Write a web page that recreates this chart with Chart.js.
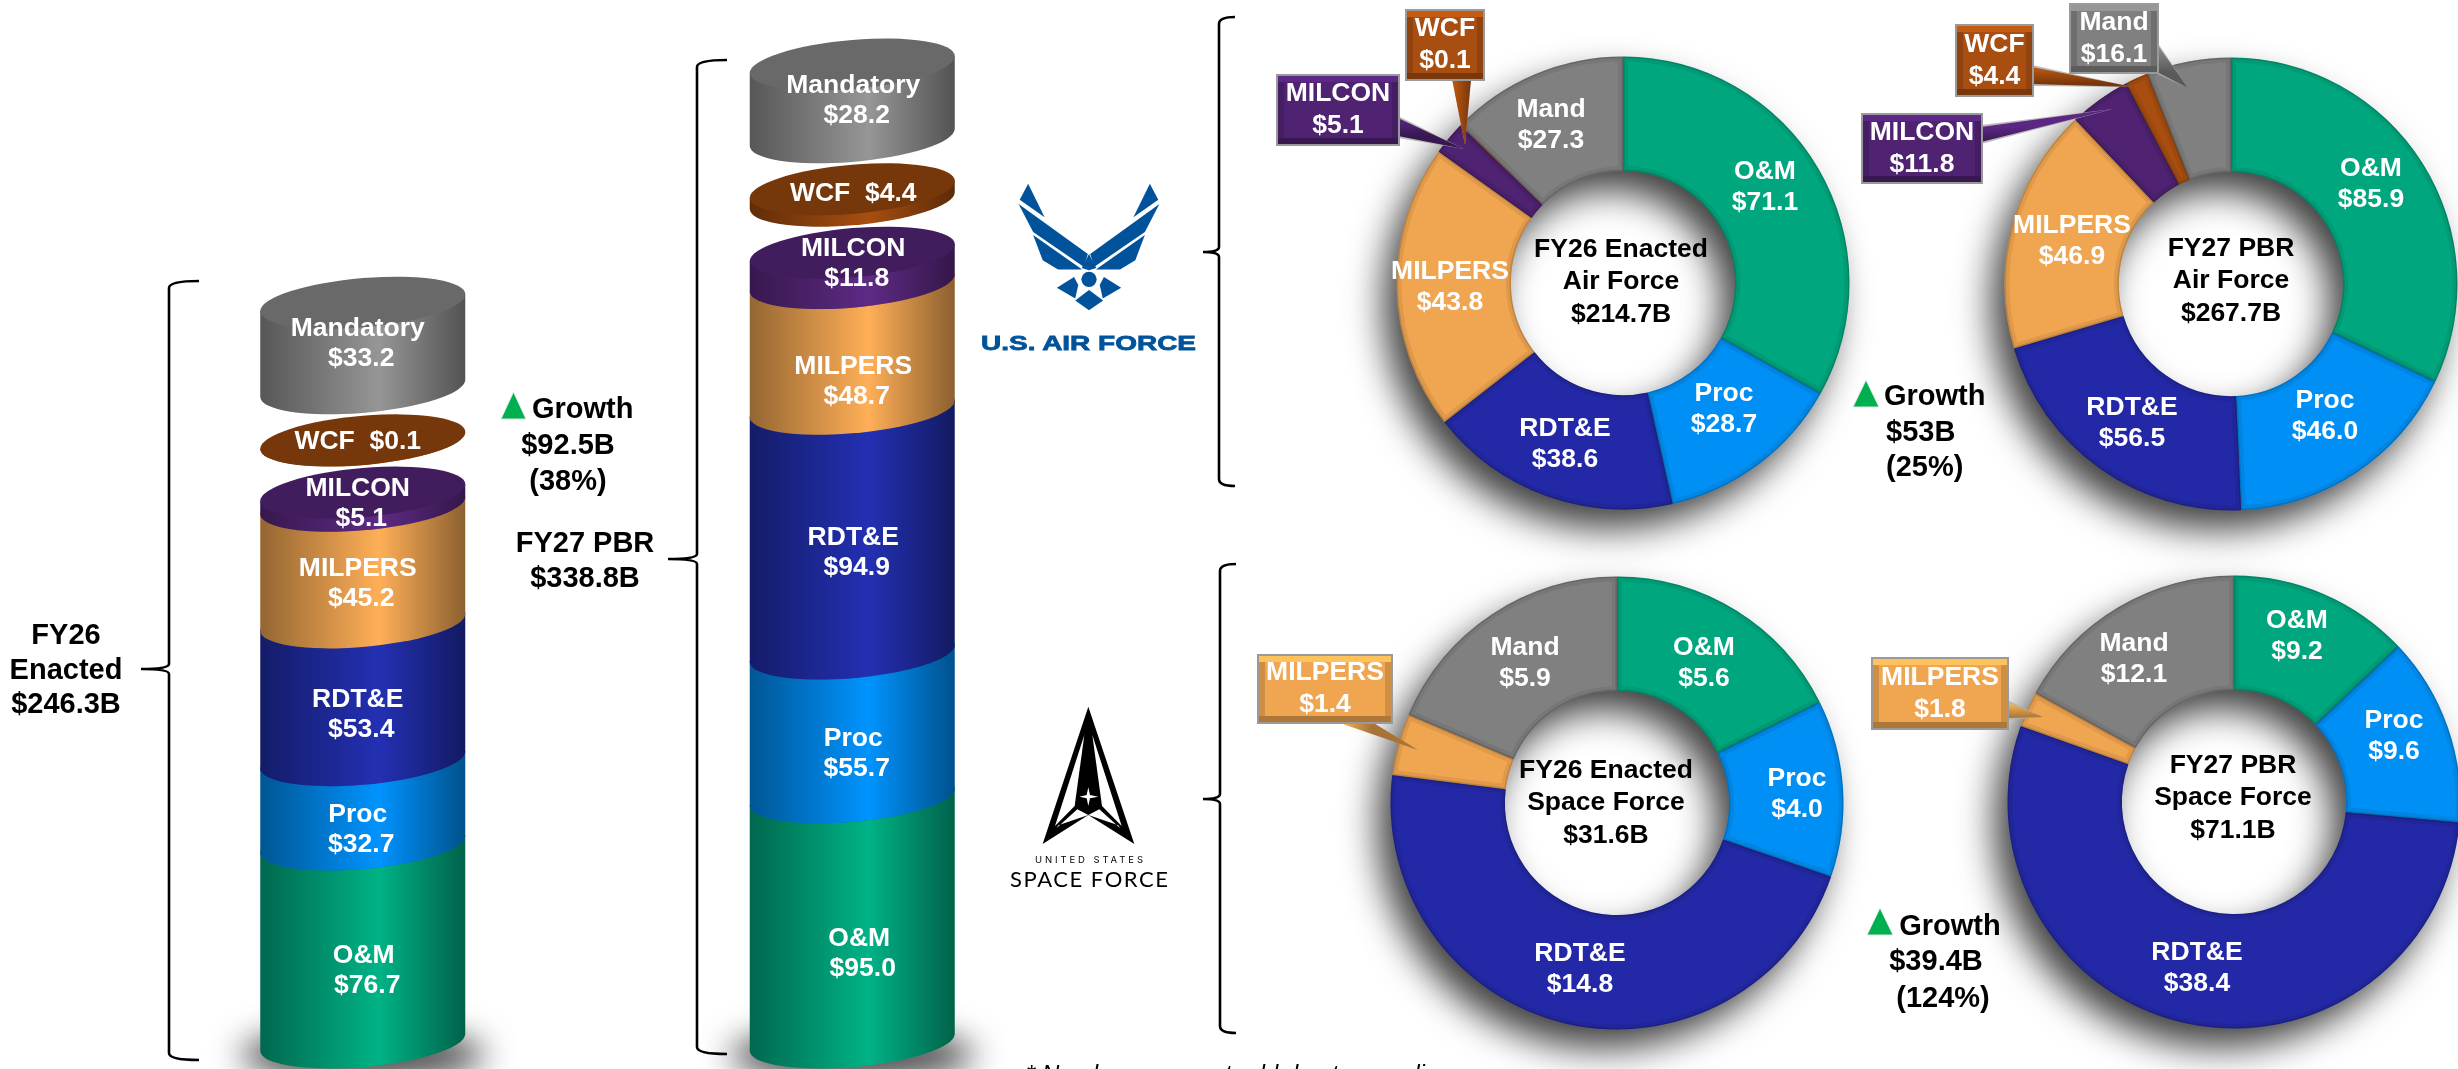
<!DOCTYPE html>
<html>
<head>
<meta charset="utf-8">
<title>FY27 Department of the Air Force budget</title>
<script src="https://cdn.jsdelivr.net/npm/chart.js@4/dist/chart.umd.min.js"></script>
<style>
  html, body { margin: 0; padding: 0; background: #fff; }
  #page { position: relative; width: 2458px; height: 1069px; overflow: hidden; background: #fff; font-family: "Liberation Sans", Arial, sans-serif; }
  canvas { position: absolute; }
  svg { position: absolute; left: 0; top: 0; }
  .note { position: absolute; transform: translate(-50%, -50%); font-weight: bold; font-size: 29px; color: #000; white-space: nowrap; line-height: 1; }
  .left { transform: translate(0, -50%); }
  #foot { position: absolute; left: 1026px; top: 1060px; font-style: italic; font-size: 24px; color: #000; white-space: nowrap; }
</style>
</head>
<body>
<div id="page">
  <canvas id="stacks" width="979" height="1069" style="left:118px;top:0"></canvas>
  <canvas id="af26" width="800" height="800"></canvas>
  <canvas id="af27" width="800" height="800"></canvas>
  <canvas id="sf26" width="800" height="800"></canvas>
  <canvas id="sf27" width="800" height="800"></canvas>
  <svg id="marks" width="2458" height="1069"></svg>

  <div class="note" style="left:66px;top:634px">FY26</div>
  <div class="note" style="left:66px;top:669px">Enacted</div>
  <div class="note" style="left:66px;top:703px">$246.3B</div>

  <div class="note left" style="left:532px;top:408px">Growth</div>
  <div class="note" style="left:568px;top:444px">$92.5B</div>
  <div class="note" style="left:568px;top:480px">(38%)</div>
  <div class="note" style="left:585px;top:542px">FY27 PBR</div>
  <div class="note" style="left:585px;top:577px">$338.8B</div>

  <div class="note left" style="left:1884px;top:395px">Growth</div>
  <div class="note left" style="left:1886px;top:431px">$53B</div>
  <div class="note left" style="left:1886px;top:466px">(25%)</div>

  <div class="note" style="left:1950px;top:925px">Growth</div>
  <div class="note" style="left:1936px;top:960px">$39.4B</div>
  <div class="note" style="left:1943px;top:997px">(124%)</div>

  <div id="foot">* Numbers may not add due to rounding</div>
</div>

<script>
// stacked columns, bottom to top, $B
var stackLabels = ['O&M', 'Proc', 'RDT&E', 'MILPERS', 'MILCON', 'WCF', 'Mandatory'];
var columns = ['FY26 Enacted', 'FY27 PBR'];
var fy26Stack = [76.7, 32.7, 53.4, 45.2, 5.1, 0.1, 33.2];
var fy27Stack = [95.0, 55.7, 94.9, 48.7, 11.8, 4.4, 28.2];

// doughnuts, clockwise from the top, $B
var airLabels = ['O&M', 'Proc', 'RDT&E', 'MILPERS', 'MILCON', 'WCF', 'Mand'];
var af26Values = [71.1, 28.7, 38.6, 43.8, 5.1, 0.1, 27.3];
var af27Values = [85.9, 46.0, 56.5, 46.9, 11.8, 4.4, 16.1];
var spaceLabels = ['O&M', 'Proc', 'RDT&E', 'MILPERS', 'Mand'];
var sf26Values = [5.6, 4.0, 14.8, 1.4, 5.9];
var sf27Values = [9.2, 9.6, 38.4, 1.8, 12.1];

var stackColors = { 'O&M': '#00b386', 'Proc': '#0094ff', 'RDT&E': '#2330b3', 'MILPERS': '#ffaf57', 'MILCON': '#5e2a85', 'WCF': '#a84e10', 'Mandatory': '#969696' };
var ringColors = { 'O&M': '#00a67e', 'Proc': '#0090f5', 'RDT&E': '#2329a6', 'MILPERS': '#f0a550', 'MILCON': '#4f2272', 'WCF': '#a84e10', 'Mand': '#808080' };

var FONT = 'bold 26.5px "Liberation Sans", Arial, sans-serif';
var PX_PER_B = 2.58;   // column height per $B, same for both columns
var CAP_B = 24.6;      // cylinder end ellipse
var CAP_TILT = -0.0825;
var CAP_LIFT = 52;     // gap left between the floating pieces
// hand placed label offsets, px, one row per column
var labelDrop = [[3, 3, -1, -5, 6, 3, 0], [9, 4, -3, 11, -3, 0, 1]];

function shade(hex, f) {
  var n = parseInt(hex.slice(1), 16);
  var r = Math.round((n >> 16 & 255) * f), g = Math.round((n >> 8 & 255) * f), b = Math.round((n & 255) * f);
  return 'rgb(' + r + ',' + g + ',' + b + ')';
}

function liftOf(i) { return CAP_LIFT * Math.max(0, i - 4); } // WCF and Mandatory float

function drawCylinder(ctx, x, top, base, a, color) {
  ctx.save();
  ctx.transform(1, CAP_TILT, 0, 1, x, 0);
  var g = ctx.createLinearGradient(-a, 0, a, 0);
  g.addColorStop(0, shade(color, 0.58));
  g.addColorStop(0.58, color);
  g.addColorStop(1, shade(color, 0.55));
  ctx.fillStyle = g;
  ctx.beginPath();
  ctx.moveTo(-a, top);
  ctx.lineTo(-a, base);
  ctx.ellipse(0, base, a, CAP_B, 0, Math.PI, 0, true);
  ctx.lineTo(a, top);
  ctx.closePath();
  ctx.fill();
  ctx.fillStyle = shade(color, 0.7);
  ctx.beginPath();
  ctx.ellipse(0, top, a, CAP_B, 0, 0, Math.PI * 2);
  ctx.fill();
  ctx.restore();
}

var cylinderPlugin = {
  id: 'cylinder',
  // chart.js paints the last dataset first, the pieces need bottom to top
  beforeDatasetsDraw: function (chart) {
    var ctx = chart.ctx;
    chart.getDatasetMeta(0).data.forEach(function (el) {
      // shape sits off canvas so only its blurred shadow lands on the page
      ctx.save();
      ctx.shadowColor = 'rgba(70,70,70,0.95)';
      ctx.shadowBlur = 32;
      ctx.shadowOffsetX = 3000;
      ctx.beginPath();
      ctx.ellipse(el.x - 3000, el.base - 12, 122, 26, 0, 0, Math.PI * 2);
      ctx.fill();
      ctx.restore();
    });
    chart.data.datasets.forEach(function (ds, i) {
      var lift = liftOf(i);
      chart.getDatasetMeta(i).data.forEach(function (el) {
        drawCylinder(ctx, el.x, el.y - lift - CAP_B, el.base - lift - CAP_B, el.width / 2, ds.backgroundColor);
      });
    });
  },
  beforeDatasetDraw: function () { return false; },
  afterDatasetsDraw: function (chart) {
    var ctx = chart.ctx;
    ctx.save();
    ctx.font = FONT;
    ctx.fillStyle = '#fff';
    ctx.textAlign = 'center';
    ctx.textBaseline = 'middle';
    chart.data.datasets.forEach(function (ds, i) {
      var lift = liftOf(i);
      chart.getDatasetMeta(i).data.forEach(function (el, c) {
        var hasCap = i >= 4;
        var mid = (el.base + el.y - (hasCap ? CAP_LIFT : 0)) / 2 - lift + labelDrop[c][i];
        var nudge = (c === 0 ? -5 : 1) + (i === 0 ? 6 : 0);
        var value = '$' + ds.data[c].toFixed(1);
        if (i === 5) {
          ctx.fillText(ds.label + '  ' + value, el.x + nudge, mid);
        } else {
          ctx.fillText(ds.label, el.x + nudge, mid - 15);
          ctx.fillText(value, el.x + nudge + 3.5, mid + 15);
        }
      });
    });
    ctx.restore();
  }
};

new Chart(document.getElementById('stacks'), {
  type: 'bar',
  data: {
    labels: columns,
    datasets: stackLabels.map(function (name, i) {
      return { label: name, data: [fy26Stack[i], fy27Stack[i]], backgroundColor: stackColors[name], barThickness: 205 };
    })
  },
  options: {
    responsive: false,
    animation: false,
    devicePixelRatio: 1,
    layout: { padding: { bottom: 2 } },
    plugins: { legend: { display: false }, tooltip: { enabled: false } },
    scales: {
      x: { stacked: true, display: false },
      y: { stacked: true, display: false, min: 0, max: 1067 / PX_PER_B }
    }
  },
  plugins: [cylinderPlugin]
});

var RING_R = 226.5;
var CANVAS = 800;

function ringPlugin(spec) {
  return {
    id: 'ring',
    beforeDatasetsDraw: function (chart) {
      var ctx = chart.ctx, arc = chart.getDatasetMeta(0).data[0];
      ctx.save();
      ctx.shadowColor = 'rgba(0,0,0,0.75)';
      ctx.shadowBlur = 36;
      ctx.shadowOffsetX = -14;
      ctx.shadowOffsetY = 20;
      ctx.fillStyle = '#555';
      ctx.beginPath();
      ctx.arc(arc.x, arc.y, arc.outerRadius - 1, 0, Math.PI * 2);
      ctx.arc(arc.x, arc.y, arc.innerRadius + 1, 0, Math.PI * 2, true);
      ctx.fill();
      ctx.restore();
    },
    afterDatasetsDraw: function (chart) {
      var ctx = chart.ctx, ds = chart.data.datasets[0];
      // soft bevel along every slice edge
      chart.getDatasetMeta(0).data.forEach(function (arc) {
        ctx.save();
        ctx.beginPath();
        ctx.arc(arc.x, arc.y, arc.outerRadius, arc.startAngle, arc.endAngle);
        ctx.arc(arc.x, arc.y, arc.innerRadius, arc.endAngle, arc.startAngle, true);
        ctx.closePath();
        ctx.clip();
        ctx.strokeStyle = 'rgba(0,0,0,0.07)';
        ctx.lineWidth = 10;
        ctx.stroke();
        ctx.strokeStyle = 'rgba(0,0,0,0.14)';
        ctx.lineWidth = 3;
        ctx.stroke();
        ctx.restore();
      });

      ctx.save();
      ctx.translate(-spec.left, -spec.top);
      ctx.font = FONT;
      ctx.textAlign = 'center';
      ctx.textBaseline = 'middle';

      spec.callouts.forEach(function (c) { drawCallout(ctx, c, ds); });

      ctx.fillStyle = '#fff';
      chart.data.labels.forEach(function (name, i) {
        var p = spec.labelAt[name];
        if (!p) return;
        ctx.fillText(name, p[0], p[1] - 15.5);
        ctx.fillText('$' + ds.data[i].toFixed(1), p[0], p[1] + 15.5);
      });

      ctx.fillStyle = '#000';
      spec.center.forEach(function (line, i) {
        ctx.fillText(line, spec.centerAt[0], spec.centerAt[1] + (i - 1) * 32.5);
      });
      ctx.restore();
    }
  };
}

function drawCallout(ctx, c, ds) {
  var i = c.index, name = c.name, color = ds.backgroundColor[i];
  var x1 = c.box[0], y1 = c.box[1], x2 = c.box[2], y2 = c.box[3];
  // pointer
  ctx.fillStyle = 'rgba(175,175,175,0.85)';
  ctx.beginPath();
  ctx.moveTo(c.root[0], c.root[1] - 2);
  ctx.lineTo(c.tip[0], c.tip[1]);
  ctx.lineTo(c.root[2], c.root[3] + 2);
  ctx.closePath();
  ctx.fill();
  var pg = ctx.createLinearGradient(c.root[0], c.root[1], c.root[2], c.root[3]);
  pg.addColorStop(0, shade(color, 1.15));
  pg.addColorStop(1, shade(color, 0.7));
  ctx.fillStyle = pg;
  ctx.beginPath();
  ctx.moveTo(c.root[0], c.root[1]);
  ctx.lineTo(c.tip[0], c.tip[1]);
  ctx.lineTo(c.root[2], c.root[3]);
  ctx.closePath();
  ctx.fill();
  // box with bevel
  ctx.fillStyle = '#9a9a9a';
  ctx.fillRect(x1, y1, x2 - x1, y2 - y1);
  var o = 2, b = 6;
  ctx.fillStyle = shade(color, 1.18);
  ctx.fillRect(x1 + o, y1 + o, x2 - x1 - 2 * o, b);
  ctx.fillStyle = shade(color, 0.72);
  ctx.fillRect(x1 + o, y2 - o - b, x2 - x1 - 2 * o, b);
  ctx.fillStyle = shade(color, 0.86);
  ctx.fillRect(x1 + o, y1 + o + b, b, y2 - y1 - 2 * o - 2 * b);
  ctx.fillRect(x2 - o - b, y1 + o + b, b, y2 - y1 - 2 * o - 2 * b);
  ctx.fillStyle = color;
  ctx.fillRect(x1 + o + b, y1 + o + b, x2 - x1 - 2 * o - 2 * b, y2 - y1 - 2 * o - 2 * b);
  ctx.fillStyle = '#fff';
  var mx = (x1 + x2) / 2, my = (y1 + y2) / 2;
  ctx.fillText(name, mx, my - 16);
  ctx.fillText('$' + ds.data[i].toFixed(1), mx, my + 16);
}

function makeRing(id, labels, values, spec) {
  var el = document.getElementById(id);
  spec.left = spec.cx - CANVAS / 2;
  spec.top = spec.cy - CANVAS / 2;
  el.style.left = spec.left + 'px';
  el.style.top = spec.top + 'px';
  new Chart(el, {
    type: 'doughnut',
    data: {
      labels: labels,
      datasets: [{
        data: values,
        backgroundColor: labels.map(function (n) { return ringColors[n]; }),
        borderWidth: 0
      }]
    },
    options: {
      responsive: false,
      animation: false,
      devicePixelRatio: 1,
      cutout: '49.5%',
      layout: { padding: CANVAS / 2 - RING_R },
      plugins: { legend: { display: false }, tooltip: { enabled: false } }
    },
    plugins: [ringPlugin(spec)]
  });
}

makeRing('af26', airLabels, af26Values, {
  cx: 1623, cy: 283,
  center: ['FY26 Enacted', 'Air Force', '$214.7B'], centerAt: [1621, 282],
  labelAt: { 'O&M': [1765, 187], 'Proc': [1724, 409], 'RDT&E': [1565, 444], 'MILPERS': [1450, 287], 'Mand': [1551, 125] },
  callouts: [
    { name: 'MILCON', index: 4, box: [1276, 74, 1400, 146], root: [1398, 118, 1398, 136], tip: [1464, 149] },
    { name: 'WCF', index: 5, box: [1405, 9, 1485, 81], root: [1452, 79, 1471, 79], tip: [1465, 145] }
  ]
});
makeRing('af27', airLabels, af27Values, {
  cx: 2231, cy: 284,
  center: ['FY27 PBR', 'Air Force', '$267.7B'], centerAt: [2231, 281],
  labelAt: { 'O&M': [2371, 184], 'Proc': [2325, 416], 'RDT&E': [2132, 423], 'MILPERS': [2072, 241] },
  callouts: [
    { name: 'MILCON', index: 4, box: [1861, 113, 1983, 184], root: [1981, 127, 1981, 142], tip: [2113, 109] },
    { name: 'WCF', index: 5, box: [1955, 24, 2034, 97], root: [2032, 67, 2032, 84], tip: [2133, 87] },
    { name: 'Mand', index: 6, box: [2069, 3, 2159, 74], root: [2157, 44, 2157, 72], tip: [2188, 88] }
  ]
});
makeRing('sf26', spaceLabels, sf26Values, {
  cx: 1617, cy: 803,
  center: ['FY26 Enacted', 'Space Force', '$31.6B'], centerAt: [1606, 803],
  labelAt: { 'O&M': [1704, 663], 'Proc': [1797, 794], 'RDT&E': [1580, 969], 'Mand': [1525, 663] },
  callouts: [
    { name: 'MILPERS', index: 3, box: [1257, 654, 1393, 724], root: [1337, 722, 1372, 722], tip: [1418, 750] }
  ]
});
makeRing('sf27', spaceLabels, sf27Values, {
  cx: 2234, cy: 802,
  center: ['FY27 PBR', 'Space Force', '$71.1B'], centerAt: [2233, 798],
  labelAt: { 'O&M': [2297, 636], 'Proc': [2394, 736], 'RDT&E': [2197, 968], 'Mand': [2134, 659] },
  callouts: [
    { name: 'MILPERS', index: 3, box: [1871, 657, 2009, 730], root: [2007, 702, 2007, 718], tip: [2043, 717] }
  ]
});

// braces, growth triangles and the two service marks
function brace(spine, hook, tip, top, mid, bottom) {
  return '<path fill="none" stroke="#000" stroke-width="2.6" d="M' + hook + ' ' + top +
    ' Q' + spine + ' ' + top + ' ' + spine + ' ' + (top + 7) +
    ' L' + spine + ' ' + (mid - 5) +
    ' Q' + spine + ' ' + mid + ' ' + tip + ' ' + mid +
    ' Q' + spine + ' ' + mid + ' ' + spine + ' ' + (mid + 5) +
    ' L' + spine + ' ' + (bottom - 7) +
    ' Q' + spine + ' ' + bottom + ' ' + hook + ' ' + bottom + '"/>';
}
function triangle(x1, x2, top, bottom) {
  return '<polygon fill="#00b050" stroke="#dfe9e3" points="' + (x1 + x2) / 2 + ',' + top + ' ' + x2 + ',' + bottom + ' ' + x1 + ',' + bottom + '"/>';
}
var blue = '#00539b';
var wing = ['962,480 1005,568 940,522', '937,533 1118,664 1107,697 975,606', '975,614 1103,704 1040,704 1000,680'];
var wingMarks = wing.map(function (p) {
  var mirrored = p.split(' ').map(function (q) { var xy = q.split(','); return (2242 - xy[0]) + ',' + xy[1]; }).join(' ');
  return '<polygon points="' + p + '"/><polygon points="' + mirrored + '"/>';
}).join('');
document.getElementById('marks').innerHTML =
  brace(169, 199, 141, 281, 669, 1060) +
  brace(697, 727, 668, 60, 559, 1054) +
  brace(1219, 1235, 1203, 17, 252, 486) +
  brace(1220, 1236, 1203, 564, 799, 1033) +
  triangle(501, 526, 392, 419) +
  triangle(1853, 1879, 380, 407) +
  triangle(1867, 1893, 908, 935) +
  '<g fill="' + blue + '" transform="translate(660,0) scale(0.3827)">' + wingMarks +
    '<circle cx="1121" cy="730" r="20"/>' +
    '<polygon points="1037,752 1082,724 1093,745 1085,780"/>' +
    '<polygon points="1205,752 1160,724 1149,745 1157,780"/>' +
    '<polygon points="1121,758 1158,785 1121,811 1085,785"/>' +
    '<polygon points="1121,664 1140,700 1121,706 1102,700"/></g>' +
  '<text x="981" y="350" font-family="Liberation Sans" font-weight="bold" font-size="21" fill="' + blue + '" stroke="' + blue + '" stroke-width="0.8" textLength="215" lengthAdjust="spacingAndGlyphs">U.S. AIR FORCE</text>' +
  '<g transform="translate(1000,700) scale(0.3333)">' +
    '<polygon fill="#000" points="265,20 403,432 265,345 128,432"/>' +
    '<polygon fill="#fff" points="253,105 224,318 165,378"/>' +
    '<polygon fill="#fff" points="277,105 306,318 365,378"/>' +
    '<polygon fill="#fff" points="238,290 260,285 265,262 270,285 295,290 270,295 265,318 260,295"/>' +
    '<polygon fill="#fff" points="265,345 232,328 170,384 175,376"/>' +
    '<polygon fill="#fff" points="265,345 298,328 360,384 355,376"/></g>' +
  '<text x="1035" y="863" font-family="Inter" font-size="9.5" fill="#000" textLength="108">UNITED STATES</text>' +
  '<text x="1010" y="887" font-family="Lato" font-size="22" fill="#000" textLength="158">SPACE FORCE</text>';
</script>
</body>
</html>
